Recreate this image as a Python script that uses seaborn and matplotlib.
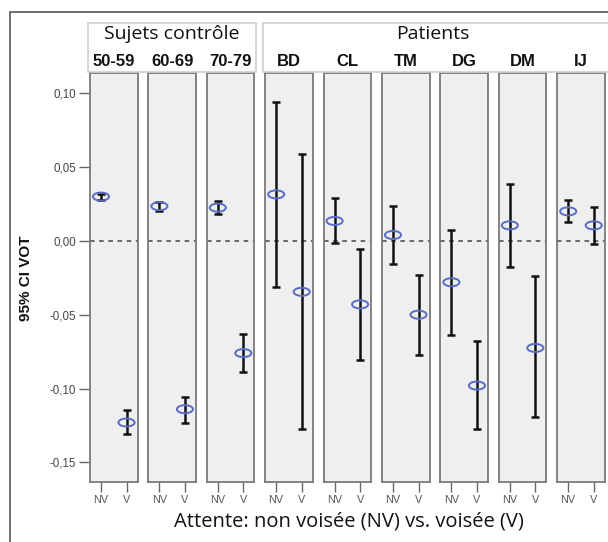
import numpy as np
import pandas as pd
import matplotlib
matplotlib.use("Agg")
import matplotlib.pyplot as plt
import seaborn as sns
from matplotlib.path import Path
from matplotlib.transforms import Affine2D
from matplotlib.patches import Rectangle

# --- data ---
groups = ["50-59", "60-69", "70-79", "BD", "CL", "TM", "DG", "DM", "IJ"]
conditions = ["NV", "V"]
nv_mean = [0.030, 0.0235, 0.0225, 0.0315, 0.0135, 0.0040, -0.0280, 0.0105, 0.0200]
nv_low = [0.028, 0.0205, 0.0180, -0.0315, -0.0015, -0.0155, -0.0635, -0.0175, 0.0125]
nv_high = [0.032, 0.0265, 0.0270, 0.0940, 0.0290, 0.0235, 0.0075, 0.0385, 0.0275]
v_mean = [-0.123, -0.114, -0.0760, -0.0345, -0.0430, -0.0500, -0.0980, -0.0725, 0.0105]
v_low = [-0.131, -0.123, -0.0885, -0.1275, -0.0805, -0.0775, -0.1275, -0.1195, -0.0020]
v_high = [-0.1145, -0.1055, -0.0630, 0.0590, -0.0055, -0.0230, -0.0680, -0.0240, 0.0230]
header_groups = ["Sujets contrôle", "Patients"]
yticks = [0.10, 0.05, 0.00, -0.05, -0.10, -0.15]

df = pd.DataFrame({
    "group": np.repeat(groups, 2),
    "cond": conditions * len(groups),
    "mean": np.ravel(np.column_stack([nv_mean, v_mean])),
    "low": np.ravel(np.column_stack([nv_low, v_low])),
    "high": np.ravel(np.column_stack([nv_high, v_high])),
})

sns.set_style("white")
plt.rcParams["font.family"] = ["Liberation Sans", "DejaVu Sans"]

W, H = 608, 542
fig = plt.figure(figsize=(W / 100, H / 100), dpi=100)


def px(x, y, w, h):
    # pixel box (from top-left) -> figure fraction
    return [x / W, 1 - (y + h) / H, w / W, h / H]


# outer frame
fig.add_artist(Rectangle((10 / W, -0.1), 1.2, 1 - 12 / H + 0.1, transform=fig.transFigure,
                         fill=False, ec="#555555", lw=1.2))

top, bottom = 73.3, 482.3
left0, step, width = 90, 58.4, 47.5
ylim = (-0.1635, 0.1135)
ellipse = Path.unit_circle().transformed(Affine2D().scale(1, 0.5))

axes = []
for i, g in enumerate(groups):
    ax = fig.add_axes(px(left0 + i * step, top, width, bottom - top))
    sub = df[df["group"] == g].reset_index(drop=True)
    xs = np.arange(len(sub))
    ax.set_facecolor("#efefef")
    ax.axhline(0, color="#444444", ls=(0, (3, 3)), lw=1.1, zorder=1)
    ax.errorbar(xs, sub["mean"], yerr=[sub["mean"] - sub["low"], sub["high"] - sub["mean"]],
                fmt="none", ecolor="#111111", elinewidth=1.8, capsize=2.6, capthick=1.8, zorder=2)
    sns.scatterplot(x=xs, y=sub["mean"], ax=ax, marker=ellipse, s=135, facecolor="none",
                    edgecolor="#5a6cc4", linewidth=1.4, zorder=3)
    ax.set_xlim(-0.43, 1.43)
    ax.set_ylim(*ylim)
    ax.set_xticks(xs)
    ax.set_xticklabels(sub["cond"], fontsize=7.8, color="#555555")
    ax.tick_params(axis="x", direction="out", length=7, width=1, color="#666666", pad=2, bottom=True)
    ax.set_xlabel("")
    ax.set_ylabel("")
    for s in ax.spines.values():
        s.set_color("#7a7a7a")
        s.set_linewidth(1.3)
    if i == 0:
        ax.set_yticks(yticks)
        ax.set_yticklabels([f"{v:.2f}".replace(".", ",") for v in yticks], fontsize=8.3, color="#444444")
        ax.tick_params(axis="y", direction="out", length=8, width=1, color="#666666", left=True, pad=2)
    else:
        ax.set_yticks([])
    axes.append(ax)

fig.text(26 / W, 1 - 278.5 / H, "95% CI VOT", rotation=90, ha="center", va="center",
         fontsize=11, fontweight="bold", color="#111111")

# header boxes
hdr_top, hdr_h = 22.7, 49
boxes = [(88, 255.7 - 88), (263, W + 20 - 263)]
for (bx, bw), label in zip(boxes, header_groups):
    fig.add_artist(Rectangle((bx / W, 1 - (hdr_top + hdr_h) / H), bw / W, hdr_h / H,
                             transform=fig.transFigure, fc="white", ec="#d0d0d0", lw=1.2))
centers = [(88 + 255.7) / 2, 433]
for cx, label in zip(centers, header_groups):
    fig.text(cx / W, 1 - 34 / H, label, ha="center", va="center", fontsize=14,
             family=["Open Sans", "DejaVu Sans"], color="#111111")
for i, g in enumerate(groups):
    cx = left0 + i * step + width / 2
    fig.text(cx / W, 1 - 61.5 / H, g, ha="center", va="center", fontsize=12, fontweight="bold",
             color="#111111")

fig.text(349 / W, 1 - 522 / H, "Attente: non voisée (NV) vs. voisée (V)", ha="center",
         va="center", fontsize=14.5, family=["Open Sans", "DejaVu Sans"], color="#111111")

fig.savefig("out.png", dpi=100)
